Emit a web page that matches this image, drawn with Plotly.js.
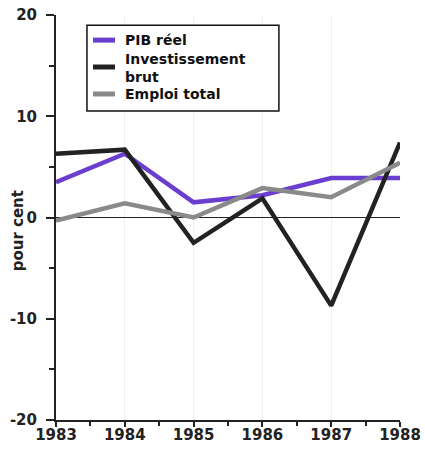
<!DOCTYPE html>
<html><head><meta charset="utf-8">
<script src="https://cdn.plot.ly/plotly-3.0.1.min.js"></script>
<style>html,body{margin:0;padding:0;background:#fff}</style>
</head><body>
<div id="chart" style="width:425px;height:451px"></div>
<script>
const years = [1983, 1984, 1985, 1986, 1987, 1988];
const pibReel = [3.5, 6.3, 1.5, 2.2, 3.9, 3.9];
const investissementBrut = [6.3, 6.7, -2.5, 1.9, -8.7, 7.4];
const emploiTotal = [-0.3, 1.4, 0.0, 2.9, 2.0, 5.4];
const yTicks = [-20, -10, 0, 10, 20];
const yTickLabels = ['-20', '-10', '0', '10', '20'];
const seriesNames = ['PIB réel', 'Investissement brut', 'Emploi total'];
const legendLabels = ['PIB réel', 'Investissement<br>brut', 'Emploi total'];
const colors = ['#6a3fcf', '#222222', '#8a8a8a'];

const FONT = 'DejaVu Sans, sans-serif';
const values = [pibReel, investissementBrut, emploiTotal];
const traces = values.map((v, i) => ({
  x: years, y: v, name: seriesNames[i], mode: 'lines', line: {color: colors[i], width: 4.5}
}));

// manual legend (paper coordinates)
const sampleY = [0.938, 0.8716, 0.805];
const textY = [0.938, 0.8685, 0.805];
const shapes = [
  {type: 'rect', xref: 'paper', yref: 'paper', x0: 0.090, x1: 0.648, y0: 0.763, y1: 0.975,
   line: {color: '#111', width: 1.5}, fillcolor: '#fff', layer: 'above'}
];
const annotations = [];
colors.forEach((c, i) => {
  shapes.push({type: 'line', xref: 'paper', yref: 'paper', x0: 0.1076, x1: 0.1715, y0: sampleY[i], y1: sampleY[i],
    line: {color: c, width: 5}, layer: 'above'});
  annotations.push({text: legendLabels[i], xref: 'paper', yref: 'paper', x: 0.198, y: textY[i], xanchor: 'left', yanchor: 'middle',
    align: 'left', showarrow: false, borderpad: 0, font: {family: FONT, size: 14, weight: 'bold', color: '#111'}});
});
annotations.push({text: 'pour cent', xref: 'paper', yref: 'paper', x: -0.108, y: 0.468, xanchor: 'center', yanchor: 'middle',
  textangle: -90, showarrow: false, font: {family: FONT, size: 15, weight: 'bold', color: '#222'}});

const layout = {
  width: 425, height: 451,
  margin: {l: 56, r: 25, t: 15, b: 31},
  paper_bgcolor: '#fff', plot_bgcolor: '#fff',
  font: {family: FONT, color: '#222', size: 15},
  showlegend: false,
  xaxis: {range: [1983, 1988], tickvals: years, ticktext: years.map(String), showline: true, linecolor: '#222', linewidth: 2,
    ticks: 'outside', ticklen: 5, tickwidth: 2, tickcolor: '#222', showgrid: true, gridcolor: '#f0f0f0', zeroline: false,
    tickfont: {family: FONT, size: 15, weight: 'bold'}, ticklabelstandoff: -5,
    minor: {dtick: 0.5, tick0: 1983.5, ticks: 'outside', ticklen: 4, tickwidth: 2, tickcolor: '#222', showgrid: false}},
  yaxis: {range: [-20, 20], tickvals: yTicks, ticktext: yTickLabels, showline: true, linecolor: '#222', linewidth: 2,
    ticks: 'outside', ticklen: 8, tickwidth: 2, tickcolor: '#222', showgrid: false, zeroline: true, zerolinecolor: '#222', zerolinewidth: 1.5,
    tickfont: {family: FONT, size: 15, weight: 'bold'}, ticklabelstandoff: 6,
    minor: {dtick: 5, ticks: 'outside', ticklen: 5, tickwidth: 2, tickcolor: '#222', showgrid: false}},
  shapes: shapes,
  annotations: annotations
};
Plotly.newPlot('chart', traces, layout, {displayModeBar: false, staticPlot: true});
</script>
</body></html>
